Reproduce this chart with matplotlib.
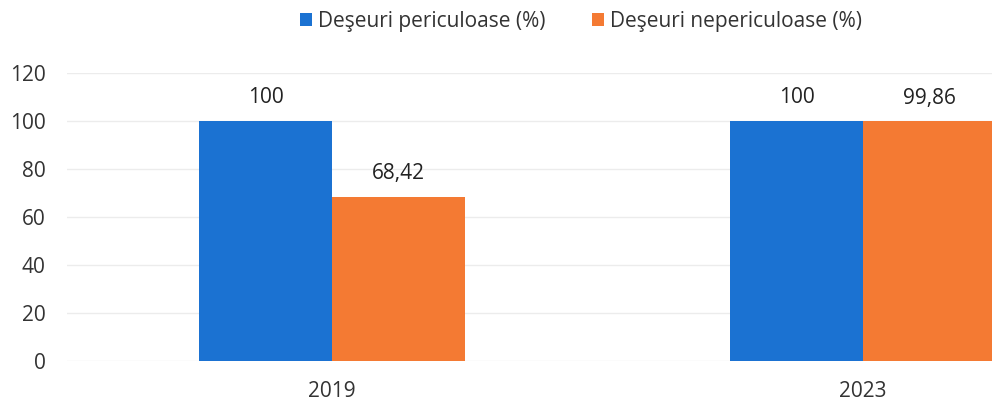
import numpy as np
import matplotlib.pyplot as plt

years = ["2019", "2023"]
periculoase = [100, 100]
nepericuloase = [68.42, 99.86]
labels = ["Deşeuri periculoase (%)", "Deşeuri nepericuloase (%)"]
colors = ["#1B72D2", "#F47A33"]

plt.rcParams['font.family'] = ['Open Sans', 'DejaVu Sans']
fs = 15

fig = plt.figure(figsize=(9.92, 4.03), dpi=100)
ax = fig.add_axes([66.5 / 992, 0.104, 1 - 66.5 / 992, 0.715])

x = np.arange(len(years))
w = 0.25
b1 = ax.bar(x - w / 2, periculoase, w, color=colors[0], label=labels[0])
b2 = ax.bar(x + w / 2, nepericuloase, w, color=colors[1], label=labels[1])

def fmt(v):
    s = "%.2f" % v
    s = s.rstrip("0").rstrip(".")
    return s.replace(".", ",")

for bars, vals in [(b1, periculoase), (b2, nepericuloase)]:
    for rect, v in zip(bars, vals):
        ax.annotate(fmt(v), (rect.get_x() + rect.get_width() / 2, v),
                    xytext=(0, 9), textcoords="offset points",
                    ha="center", va="bottom", fontsize=fs, color="#222222")

ax.set_xlim(-0.5, 1.243)
ax.set_ylim(0, 120)
ax.set_yticks(np.arange(0, 121, 20))
ax.set_xticks(x)
ax.set_xticklabels(years)
ax.tick_params(axis="both", length=0, labelsize=fs, colors="#333333")
ax.tick_params(axis="y", pad=15)
ax.tick_params(axis="x", pad=14)
ax.yaxis.grid(True, color="#ececec", linewidth=1)
ax.set_axisbelow(True)
for s in ax.spines.values():
    s.set_visible(False)

fig.legend(loc="center", bbox_to_anchor=(581 / 992, 1 - 21 / 403), ncol=2,
           frameon=False, fontsize=fs, handlelength=0.6, handleheight=0.6,
           handletextpad=0.3, columnspacing=2.2, labelcolor="#333333")

fig.savefig("out.png", dpi=100)
